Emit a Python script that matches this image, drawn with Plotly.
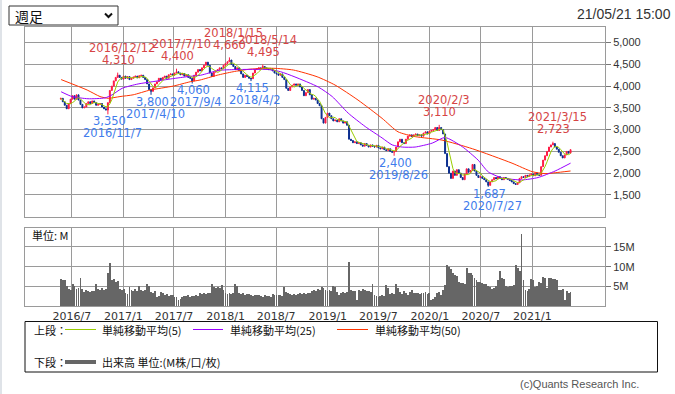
import pandas as pd
import plotly.graph_objects as go

# ---------------- canvas geometry (pixels) ----------------
W, H = 675, 394
ML, MR, MT, MB = 25, 70, 27, 88
PW = W - ML - MR
PH = H - MT - MB


def px(x):
    return (x - ML) / PW


def py(y):
    return (H - MB - y) / PH


# ---------------- data ----------------
week_start = "2016-05-23"
first_open = 3700

close = [
    3720, 3640, 3560, 3480, 3600, 3700, 3780, 3700, 3800, 3680,
    3580, 3500, 3520, 3600, 3640, 3600, 3660, 3620, 3560, 3580,
    3600, 3520, 3480, 3450, 3620, 3900, 4000, 4120, 4200, 4250,
    4200, 4160, 4230, 4180, 4220, 4150, 4180, 4210, 4230, 4190,
    4240, 4250, 4200, 4150, 4050, 3920, 3880, 3960, 4050, 4100,
    4180, 4150, 4200, 4230, 4180, 4260, 4280, 4250, 4300, 4330,
    4300, 4260, 4290, 4230, 4260, 4200, 4180, 4120, 4250, 4320,
    4380, 4350, 4420, 4480, 4550, 4480, 4300, 4220, 4320, 4350,
    4380, 4420, 4400, 4480, 4520, 4560, 4600, 4500, 4450, 4380,
    4420, 4350, 4280, 4200, 4250, 4220, 4180, 4170, 4300, 4380,
    4400, 4420, 4400, 4450, 4420, 4400, 4380, 4400, 4350, 4300,
    4280, 4250, 4280, 4200, 4150, 3950, 3900, 3980, 4020, 4050,
    4020, 4050, 3980, 3900, 3780, 3850, 3920, 3800, 3700, 3720,
    3680, 3600, 3550, 3250, 3150, 3280, 3380, 3320, 3250, 3200,
    3220, 3180, 3250, 3200, 3150, 3180, 3100, 2780, 2750, 2700,
    2720, 2680, 2700, 2650, 2620, 2680, 2640, 2600, 2650, 2620,
    2600, 2640, 2580, 2560, 2600, 2540, 2520, 2560, 2500, 2480,
    2500, 2600, 2720, 2780, 2700, 2680, 2780, 2850, 2880, 2840,
    2880, 2900, 2860, 2880, 2850, 2920, 2950, 2900, 2960, 2980,
    3000, 3050, 2980, 3050, 3000, 2900, 2450, 2150, 2000, 1880,
    2050, 1950, 2080, 2000, 1900, 1850, 1980, 2100, 2020, 2060,
    2200, 2050, 1950, 1900, 1920, 1880, 1850, 1800, 1720, 1800,
    1850, 1900, 1870, 1920, 1880, 1850, 1900, 1880, 1860, 1830,
    1800, 1760, 1740, 1780, 1880, 1920, 1900, 1950, 1930, 1960,
    1980, 1940, 2000, 1960, 1950, 2150, 2300, 2400, 2500, 2600,
    2650, 2680, 2600, 2550, 2480, 2400, 2350, 2420, 2500, 2460, 2540,
]

volume_m = [
    6.8, 6.5, 6.6, 5.0, 4.3, 4.0, 5.5, 5.2, 4.3, 4.5,
    7.0, 4.2, 3.6, 4.0, 3.8, 3.5, 3.9, 3.7, 5.6, 4.3,
    4.1, 4.6, 4.0, 4.2, 8.3, 11.0, 6.6, 6.8, 6.2, 6.4,
    4.4, 4.0, 4.2, 3.3, 3.0, 4.8, 4.0, 3.8, 4.2, 3.9,
    5.0, 4.0, 3.9, 4.1, 5.5, 5.0, 3.6, 3.4, 3.8, 2.4,
    2.6, 3.6, 3.2, 2.8, 3.0, 2.6, 2.9, 2.7, 2.4, 2.2,
    1.5, 1.8, 2.2, 2.6, 2.5, 2.7, 2.4, 2.6, 2.5, 2.7,
    2.6, 3.2, 3.0, 3.4, 3.1, 3.2, 3.3, 5.7, 4.9, 4.6,
    4.8, 4.5, 5.3, 4.0, 3.2, 3.0, 3.4, 3.1, 3.3, 5.5,
    5.0, 3.2, 3.0, 3.3, 2.9, 3.1, 3.0, 2.8, 2.6, 2.9,
    2.7, 2.8, 2.6, 2.4, 2.7, 2.5, 2.6, 2.3, 3.0, 2.8,
    2.9, 2.7, 2.9, 2.6, 4.8, 3.6, 3.4, 3.0, 2.8, 3.1,
    2.9, 3.0, 3.2, 3.0, 3.4, 3.1, 3.3, 3.2, 3.8, 4.0,
    3.8, 4.2, 4.0, 4.8, 4.5, 4.0, 3.8, 4.1, 3.9, 5.1,
    4.9, 3.6, 2.8, 3.2, 3.5, 3.3, 3.6, 11.3, 4.0, 3.8,
    3.9, 1.5, 4.0, 3.8, 4.2, 4.0, 3.7, 3.9, 3.6, 5.6,
    2.7, 2.5, 2.4, 2.6, 2.8, 2.6, 5.3, 4.5, 3.0, 3.2,
    3.1, 5.5, 4.5, 3.5, 3.0, 3.8, 3.4, 2.7, 3.6, 4.0,
    3.2, 3.4, 3.3, 3.1, 3.3, 3.2, 3.5, 3.0, 3.2, 1.5,
    1.7, 2.2, 3.2, 3.5, 2.8, 4.1, 5.3, 10.3, 9.9, 9.5,
    8.3, 7.8, 7.5, 6.0, 5.9, 5.8, 5.6, 9.7, 8.5, 8.3,
    8.0, 7.0, 6.6, 6.2, 6.0, 5.8, 5.5, 5.5, 5.0, 4.8,
    4.4, 4.5, 5.2, 6.6, 9.0, 7.0, 6.8, 5.0, 4.8, 5.2,
    5.2, 5.3, 10.4, 9.6, 9.0, 18.4, 6.6, 4.0, 3.8, 4.2,
    6.8, 6.5, 4.8, 5.0, 6.0, 5.8, 7.3, 7.0, 4.5, 7.1,
    7.0, 6.9, 6.8, 6.6, 4.1, 4.0, 4.2, 1.5, 3.8, 3.4, 3.6,
]

high_marks = [
    ("2016-12-12", 4310), ("2017-07-10", 4400), ("2018-01-15", 4660),
    ("2018-05-14", 4495), ("2020-02-03", 3110), ("2021-03-15", 2723),
]
low_marks = [
    ("2016-11-07", 3350), ("2017-04-10", 3800), ("2017-09-04", 4060),
    ("2018-04-02", 4115), ("2019-08-26", 2400), ("2020-07-27", 1687),
]

ma25_dates = [
    "2016-05-24", "2016-07-02", "2016-08-28", "2016-10-28", "2016-11-22",
    "2016-12-28", "2017-02-23", "2017-04-14", "2017-06-25", "2017-08-21",
    "2017-10-04", "2017-12-07", "2018-02-06", "2018-06-04", "2018-07-17",
    "2018-09-06", "2018-11-28", "2019-01-17", "2019-03-15", "2019-05-15",
    "2019-07-14", "2019-08-19", "2019-09-24", "2019-11-09", "2020-01-09",
    "2020-02-24", "2020-04-25", "2020-06-21", "2020-07-27", "2020-09-15",
    "2020-11-25", "2021-01-21", "2021-03-23", "2021-05-17",
]
ma25_vals = [
    3870, 3760, 3710, 3730, 3800,
    3950, 4050, 4100, 4170, 4220,
    4250, 4360, 4380, 4380, 4330,
    4210, 3980, 3760, 3380, 3070,
    2810, 2650, 2600, 2600, 2690,
    2820, 2610, 2300, 2030, 1890,
    1845, 1900, 2050, 2230,
]

ma50_dates = [
    "2016-05-24", "2016-08-25", "2016-10-10", "2016-11-08", "2016-12-20",
    "2017-02-05", "2017-04-07", "2017-06-28", "2017-08-28", "2017-10-02",
    "2017-12-02", "2018-01-28", "2018-03-30", "2018-06-20", "2018-08-31",
    "2018-11-24", "2019-01-27", "2019-04-19", "2019-07-14", "2019-09-09",
    "2019-11-09", "2020-02-13", "2020-06-01", "2020-10-20", "2020-12-31",
    "2021-02-15", "2021-03-23", "2021-05-17",
]
ma50_vals = [
    4150, 3910, 3760, 3720, 3760,
    3800, 3910, 4000, 4100, 4140,
    4250, 4330, 4390, 4410, 4370,
    4215, 4025, 3680, 3260, 2950,
    2840, 2760, 2560, 2230, 2035,
    1990, 2010, 2050,
]

x_tick_vals = [
    "2016-07-01", "2017-01-01", "2017-07-01", "2018-01-01", "2018-07-01",
    "2019-01-01", "2019-07-01", "2020-01-01", "2020-07-01", "2021-01-01",
]
x_tick_text = [
    "2016/7", "2017/1", "2017/7", "2018/1", "2018/7",
    "2019/1", "2019/7", "2020/1", "2020/7", "2021/1",
]
price_ticks = [1500, 2000, 2500, 3000, 3500, 4000, 4500, 5000]
vol_ticks = [5, 10, 15]
vol_tick_text = ["5M", "10M", "15M"]

# ---------------- derived series ----------------
dates = pd.date_range(week_start, periods=len(close), freq="7D")
opens = [first_open] + close[:-1]
highs = [max(o, c) for o, c in zip(opens, close)]
lows = [min(o, c) for o, c in zip(opens, close)]
pos = {d.strftime("%Y-%m-%d"): i for i, d in enumerate(dates)}
for d, v in high_marks:
    highs[pos[d]] = v
for d, v in low_marks:
    lows[pos[d]] = v
ma5 = pd.Series(close).rolling(5, min_periods=1).mean()

# ---------------- styles ----------------
UP = "#ff1a44"
DOWN = "#0c2f8f"
GRID = "#9a9a9a"
C_MA5 = "#99cc00"
C_MA25 = "#9900ff"
C_MA50 = "#ff3300"
HI_TXT = "#d64545"
LO_TXT = "#3f7cec"
NUM_FONT = "DejaVu Sans"
AX_FONT = "Liberation Sans"
JP_FONT = "Noto Sans CJK JP"

fig = go.Figure()

fig.add_trace(go.Bar(
    x=dates, y=volume_m, xaxis="x2", yaxis="y2",
    marker=dict(color="#666666", line=dict(width=0)),
    width=6.6 * 24 * 3600 * 1000, showlegend=False, hoverinfo="skip",
))

fig.add_trace(go.Scatter(
    x=ma50_dates, y=ma50_vals, mode="lines", xaxis="x", yaxis="y",
    line=dict(color=C_MA50, width=1, shape="spline", smoothing=0.6),
    showlegend=False, hoverinfo="skip",
))
fig.add_trace(go.Scatter(
    x=ma25_dates, y=ma25_vals, mode="lines", xaxis="x", yaxis="y",
    line=dict(color=C_MA25, width=1, shape="spline", smoothing=0.6),
    showlegend=False, hoverinfo="skip",
))

fig.add_trace(go.Candlestick(
    x=dates, open=opens, high=highs, low=lows, close=close,
    xaxis="x", yaxis="y",
    increasing=dict(line=dict(color=UP, width=1), fillcolor=UP),
    decreasing=dict(line=dict(color=DOWN, width=1), fillcolor=DOWN),
    whiskerwidth=0, showlegend=False, hoverinfo="skip",
))

fig.add_trace(go.Scatter(
    x=dates, y=ma5, mode="lines", xaxis="x", yaxis="y",
    line=dict(color=C_MA5, width=1),
    showlegend=False, hoverinfo="skip",
))


def fmt_date(d):
    y, m, dd = d.split("-")
    return f"{y}/{int(m)}/{int(dd)}"


annotations = []
for d, v in high_marks:
    annotations.append(dict(x=d, y=v, xref="x", yref="y", text=f"{v:,}",
                            showarrow=False, xanchor="center", yanchor="middle",
                            xshift=0.5, yshift=12.7,
                            font=dict(family=NUM_FONT, size=11.5, color=HI_TXT)))
    annotations.append(dict(x=d, y=v, xref="x", yref="y", text=fmt_date(d),
                            showarrow=False, xanchor="center", yanchor="middle",
                            xshift=4.5, yshift=24.7,
                            font=dict(family=NUM_FONT, size=11.5, color=HI_TXT)))
for d, v in low_marks:
    annotations.append(dict(x=d, y=v, xref="x", yref="y", text=f"{v:,}",
                            showarrow=False, xanchor="center", yanchor="middle",
                            xshift=1.2, yshift=-6.8,
                            font=dict(family=NUM_FONT, size=11.5, color=LO_TXT)))
    annotations.append(dict(x=d, y=v, xref="x", yref="y", text=fmt_date(d),
                            showarrow=False, xanchor="center", yanchor="middle",
                            xshift=4.3, yshift=-18.8,
                            font=dict(family=NUM_FONT, size=11.5, color=LO_TXT)))


def paper_text(x, y, text, size, family, color="#111111", anchor="left"):
    annotations.append(dict(x=px(x), y=py(y), xref="paper", yref="paper",
                            text=text, showarrow=False, xanchor=anchor,
                            yanchor="middle",
                            font=dict(family=family, size=size, color=color)))


paper_text(13, 16, "週足", 14, JP_FONT)
paper_text(673, 14, "21/05/21 15:00", 14, AX_FONT, "#333333", "right")
paper_text(30, 235, "単位: M", 11, JP_FONT)
paper_text(32, 329.5, "上段：", 11, JP_FONT)
paper_text(100, 329.5, "単純移動平均(5)", 11, JP_FONT)
paper_text(228, 329.5, "単純移動平均(25)", 11, JP_FONT)
paper_text(373, 329.5, "単純移動平均(50)", 11, JP_FONT)
paper_text(32, 362, "下段：", 11, JP_FONT)
paper_text(100, 362, "出来高 単位:(M株/口/枚)", 11, JP_FONT)
paper_text(641, 384, "(c)Quants Research Inc.", 11, AX_FONT, "#555555", "right")

shapes = [
    dict(type="rect", xref="paper", yref="paper", x0=px(0), x1=px(2),
         y0=py(394), y1=py(0), line=dict(width=0), fillcolor="#dfe3e8"),
    dict(type="rect", xref="paper", yref="paper", x0=px(9), x1=px(118),
         y0=py(25), y1=py(6), line=dict(color="#333333", width=1),
         fillcolor="white"),
    dict(type="path", xref="paper", yref="paper",
         path=f"M {px(105)},{py(13.5)} L {px(108.5)},{py(17)} L {px(112)},{py(13.5)}",
         line=dict(color="#111111", width=2)),
    dict(type="rect", xref="paper", yref="paper", x0=px(25), x1=px(657.5),
         y0=py(372), y1=py(321.5), line=dict(color="#111111", width=1)),
    dict(type="line", xref="paper", yref="paper", x0=px(65), x1=px(96),
         y0=py(329.5), y1=py(329.5), line=dict(color=C_MA5, width=1)),
    dict(type="line", xref="paper", yref="paper", x0=px(193), x1=px(223),
         y0=py(329.5), y1=py(329.5), line=dict(color=C_MA25, width=1)),
    dict(type="line", xref="paper", yref="paper", x0=px(337), x1=px(368),
         y0=py(329.5), y1=py(329.5), line=dict(color=C_MA50, width=1)),
    dict(type="line", xref="paper", yref="paper", x0=px(65), x1=px(96),
         y0=py(362), y1=py(362), line=dict(color="#666666", width=4)),
]

x_range = ["2016-01-16", "2021-09-17"]
axis_common = dict(showgrid=True, gridcolor=GRID, gridwidth=1, showline=True,
                   linecolor=GRID, linewidth=1, mirror=True, zeroline=False)

fig.update_layout(
    width=W, height=H, autosize=False,
    margin=dict(l=ML, r=MR, t=MT, b=MB, pad=0),
    paper_bgcolor="white", plot_bgcolor="white",
    showlegend=False, bargap=0,
    xaxis=dict(domain=[0, 1], anchor="y", type="date", range=x_range,
               tickvals=x_tick_vals, showticklabels=False, ticks="",
               rangeslider=dict(visible=False), **axis_common),
    xaxis2=dict(domain=[0, 1], anchor="y2", type="date", range=x_range,
                matches="x", tickvals=x_tick_vals, ticktext=x_tick_text,
                showticklabels=True, ticks="",
                tickfont=dict(family=NUM_FONT, size=11, color="#333333"),
                **axis_common),
    yaxis=dict(domain=[py(216.7), 1], anchor="x", range=[1000, 5358],
               side="right", tickvals=price_ticks, tickformat=",d",
               ticks="outside", ticklen=5, tickcolor="#777777",
               tickfont=dict(family=AX_FONT, size=11, color="#333333"),
               **axis_common),
    yaxis2=dict(domain=[0, py(227.7)], anchor="x2", range=[0, 19.9],
                side="right", tickvals=vol_ticks, ticktext=vol_tick_text,
                ticks="outside", ticklen=5, tickcolor="#777777",
                tickfont=dict(family=AX_FONT, size=11, color="#333333"),
                **axis_common),
    annotations=annotations,
    shapes=shapes,
)

fig.write_html(
    "out.html",
    config={"displayModeBar": False, "staticPlot": True},
    post_script="document.body.style.margin='0';"
                "document.body.style.overflow='hidden';",
)
